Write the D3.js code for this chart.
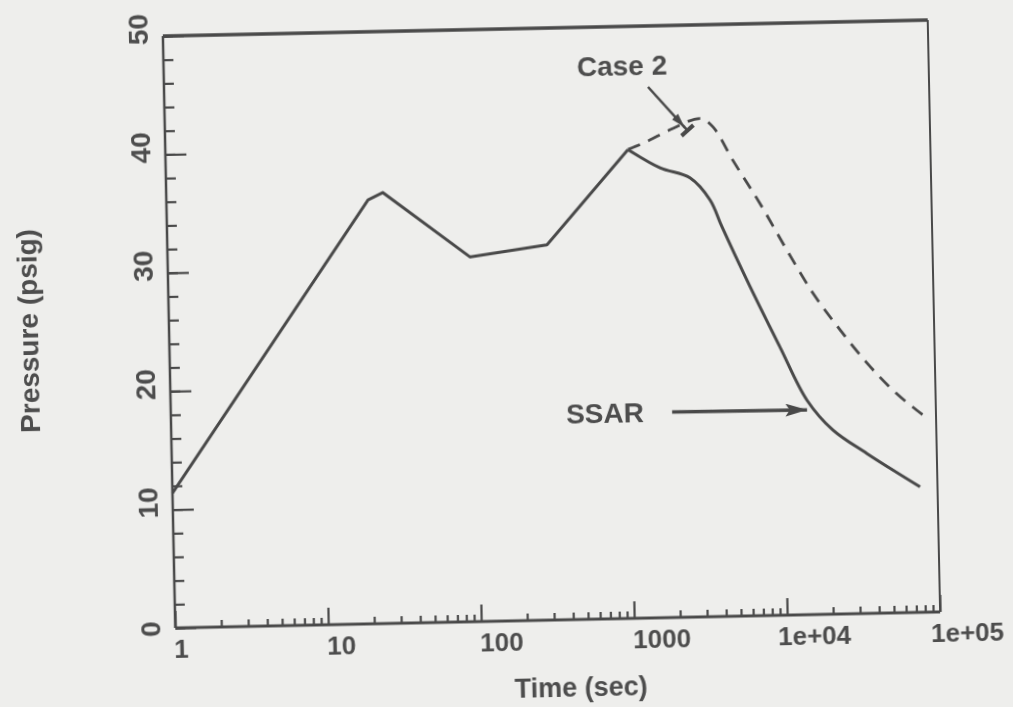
<!DOCTYPE html>
<html>
<head>
<meta charset="utf-8">
<script src="https://cdn.jsdelivr.net/npm/d3@7"></script>
<style>
  body { margin: 0; background: #eeeeec; }
  svg { display: block; }
  text { font-family: "Liberation Sans", Arial, sans-serif; font-weight: bold; fill: #4e4e4e; }
</style>
</head>
<body>
<script>
//data
const ssarTime     = [1, 20.8, 26, 95, 303, 1056, 1700, 2660, 3570, 4240, 6350, 9770, 14450, 21100, 35000, 76900];
const ssarPressure = [11.4, 35.8, 36.4, 30.8, 31.7, 39.6, 38.0, 37.1, 35.2, 32.9, 27.8, 22.65, 18.1, 15.55, 13.5, 10.6];
const case2Time     = [1056, 1327, 2094, 3155, 3822, 5100, 7570, 11200, 16300, 24250, 36000, 52800, 82400];
const case2Pressure = [39.6, 40.1, 41.3, 42.1, 41.35, 38.5, 34.8, 30.8, 27.15, 24.0, 21.15, 18.8, 16.65];
const xTickValues = [1, 10, 100, 1000, 1e4, 1e5];
const xTickLabels = ["1", "10", "100", "1000", "1e+04", "1e+05"];
const yTickValues = [0, 10, 20, 30, 40, 50];
const yMinorValues = d3.range(0, 51, 2);

//annotations, in data units
const labels = [
  {text: "Case 2", t: 990, v: 46.7},
  {text: "SSAR", t: 687, v: 17.4}
];
const arrows = [
  {t1: 1456, v1: 44.85, t2: 2600, v2: 41.1, bar: true},
  {t1: 1888, v1: 17.36, t2: 14390, v2: 17.3, bar: false}
];

//Margin Convention
const margin = {top: 28, right: 79, bottom: 87, left: 169};
const width = 1013 - margin.left - margin.right;
const height = 707 - margin.top - margin.bottom;
const ink = "#4a4a4a";

//Scales
const x = d3.scaleLog().domain([1, 1e5]).range([0, width]);
const y = d3.scaleLinear().domain([0, 50]).range([height, 0]);

const svg = d3.select("body").append("svg")
  .attr("width", 1013)
  .attr("height", 707);

const defs = svg.append("defs");
defs.append("filter").attr("id", "scan")
  .append("feGaussianBlur").attr("stdDeviation", 0.7);

defs.append("marker")
  .attr("id", "head")
  .attr("markerUnits", "userSpaceOnUse")
  .attr("viewBox", "0 0 20 12")
  .attr("refX", 20).attr("refY", 6)
  .attr("markerWidth", 22).attr("markerHeight", 13)
  .attr("orient", "auto")
  .append("path")
  .attr("d", "M0,0 L20,6 L0,12 L4,6 Z")
  .attr("fill", ink);

defs.append("marker")
  .attr("id", "headSmall")
  .attr("markerUnits", "userSpaceOnUse")
  .attr("viewBox", "0 0 20 12")
  .attr("refX", 20).attr("refY", 6)
  .attr("markerWidth", 14).attr("markerHeight", 10)
  .attr("orient", "auto")
  .append("path")
  .attr("d", "M0,0 L20,6 L0,12 Z")
  .attr("fill", ink);

//the scanned page is tilted a little
const page = svg.append("g")
  .attr("filter", "url(#scan)")
  .attr("transform", "rotate(-1.2, 551.5, 324)");

const g = page.append("g")
  .attr("transform", "translate(" + margin.left + "," + margin.top + ")");

//x axis, ticks pointing inward
const xMinor = x.ticks().filter(d => xTickValues.indexOf(d) < 0);
g.append("g")
  .attr("class", "xMinor")
  .attr("transform", "translate(0," + height + ")")
  .call(d3.axisBottom(x).tickValues(xMinor).tickSize(-7).tickFormat(""));

const xAxis = g.append("g")
  .attr("class", "xAxis")
  .attr("transform", "translate(0," + height + ")")
  .call(d3.axisBottom(x).tickValues(xTickValues).tickSize(-17)
    .tickFormat((d, i) => xTickLabels[i]));

xAxis.selectAll("text")
  .attr("text-anchor", "start")
  .attr("x", (d, i) => xTickLabels[i].length > 4 ? -10 : -2)
  .attr("y", 30)
  .attr("dy", 0)
  .style("font-size", "26px");

//y axis
g.append("g")
  .attr("class", "yMinor")
  .call(d3.axisLeft(y).tickValues(yMinorValues).tickSize(-10).tickFormat(""));

const yAxis = g.append("g")
  .attr("class", "yAxis")
  .call(d3.axisLeft(y).tickValues(yTickValues).tickSize(-21));

yAxis.selectAll("text")
  .attr("text-anchor", "start")
  .attr("x", 0)
  .attr("y", 0)
  .attr("dy", 0)
  .attr("transform", "translate(-15,8) rotate(-90)")
  .style("font-size", "28px");

g.selectAll(".domain").remove();
g.selectAll(".tick line").attr("stroke", ink).attr("stroke-width", 2.2);

//frame
g.append("line").attr("x1", 0).attr("x2", width).attr("y1", 0).attr("y2", 0)
  .attr("stroke", ink).attr("stroke-width", 3.5);
g.append("line").attr("x1", width).attr("x2", width).attr("y1", 0).attr("y2", height)
  .attr("stroke", ink).attr("stroke-width", 2);
g.append("line").attr("x1", 0).attr("x2", 0).attr("y1", 0).attr("y2", height)
  .attr("stroke", ink).attr("stroke-width", 2.5);
g.append("line").attr("x1", 0).attr("x2", width).attr("y1", height).attr("y2", height)
  .attr("stroke", ink).attr("stroke-width", 2.8);

//d3 line
const line = d3.line()
  .x(d => x(d[0]))
  .y(d => y(d[1]));

const ssar = ssarTime.map((t, i) => [t, ssarPressure[i]]);
const case2 = case2Time.map((t, i) => [t, case2Pressure[i]]);
const peakIndex = ssarTime.indexOf(1056);

g.append("path")
  .datum(case2)
  .attr("d", line.curve(d3.curveMonotoneX))
  .attr("fill", "none")
  .attr("stroke", ink)
  .attr("stroke-width", 2.8)
  .attr("stroke-dasharray", "13,9");

//SSAR: straight pieces up to the second peak, smooth decay after it
g.append("path")
  .datum(ssar.slice(0, peakIndex + 1))
  .attr("d", line.curve(d3.curveLinear))
  .attr("fill", "none")
  .attr("stroke", ink)
  .attr("stroke-width", 3)
  .attr("stroke-linejoin", "round");

g.append("path")
  .datum(ssar.slice(peakIndex))
  .attr("d", line.curve(d3.curveCatmullRom.alpha(0.5)))
  .attr("fill", "none")
  .attr("stroke", ink)
  .attr("stroke-width", 3)
  .attr("stroke-linejoin", "round");

//annotations
g.selectAll(".note")
  .data(labels)
  .enter().append("text")
  .attr("class", "note")
  .attr("x", d => x(d.t))
  .attr("y", d => y(d.v) + 10)
  .attr("text-anchor", "middle")
  .style("font-size", "28px")
  .text(d => d.text);

arrows.forEach(function(a) {
  const x1 = x(a.t1), y1 = y(a.v1), x2 = x(a.t2), y2 = y(a.v2);
  g.append("line")
    .attr("x1", x1).attr("y1", y1)
    .attr("x2", a.bar ? x2 - (x2 - x1) * 0.08 : x2)
    .attr("y2", a.bar ? y2 - (y2 - y1) * 0.08 : y2)
    .attr("stroke", ink)
    .attr("stroke-width", a.bar ? 2.5 : 3.5)
    .attr("marker-end", a.bar ? "url(#headSmall)" : "url(#head)");
  if (a.bar) {
    const len = Math.hypot(x2 - x1, y2 - y1);
    const px = -(y2 - y1) / len * 8, py = (x2 - x1) / len * 8;
    g.append("line")
      .attr("x1", x2 - px).attr("y1", y2 - py)
      .attr("x2", x2 + px).attr("y2", y2 + py)
      .attr("stroke", ink)
      .attr("stroke-width", 4);
    g.append("line")
      .attr("x1", x2 - (x2 - x1) * 0.1).attr("y1", y2 - (y2 - y1) * 0.1)
      .attr("x2", x2).attr("y2", y2)
      .attr("stroke", ink)
      .attr("stroke-width", 2.5);
  }
});

//axis titles
page.append("text")
  .attr("x", margin.left + width / 2 + 22)
  .attr("y", 697)
  .attr("text-anchor", "middle")
  .style("font-size", "27px")
  .text("Time (sec)");

page.append("text")
  .attr("transform", "translate(38,320) rotate(-90)")
  .attr("text-anchor", "middle")
  .style("font-size", "28px")
  .text("Pressure (psig)");
</script>
</body>
</html>
